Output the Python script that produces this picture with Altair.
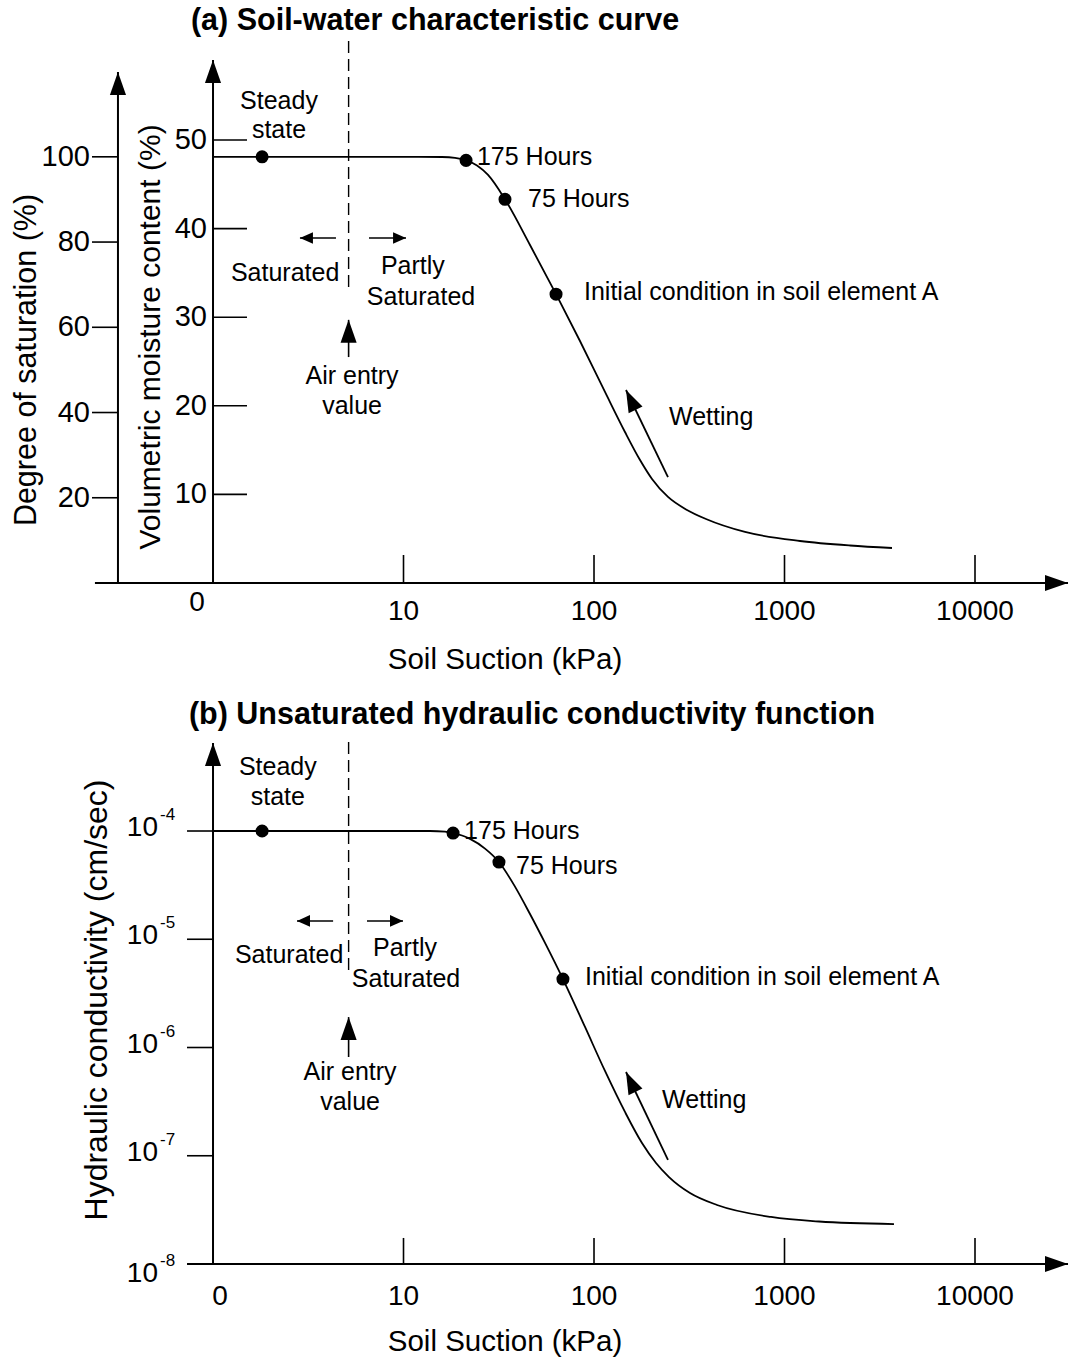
import altair as alt
import pandas as pd

FONT = "Liberation Sans"
PANEL_W, PANEL_H = 1070, 680

# ------------------------------------------------------------------ data
X_TICKS = [10, 100, 1000, 10000]
X_TICK_LABELS = ["10", "100", "1000", "10000"]
X_ORIGIN = 1            # suction drawn at the vertical axis, labelled "0"
X_ORIGIN_LABEL = "0"

VOL_TICKS = [10, 20, 30, 40, 50]
SAT_TICKS = [20, 40, 60, 80, 100]
SAT_TO_VOL = 0.481      # volumetric water content (%) per 1 % of saturation

K_TICKS = [1e-4, 1e-5, 1e-6, 1e-7]
K_TICK_EXP = ["-4", "-5", "-6", "-7"]
K_MIN = 1e-8
K_MIN_EXP = "-8"

# (a) soil-water characteristic curve
SWCC_SUCTION = [1, 5, 12, 15.93, 18.64, 21.3, 24.31, 27.78, 34.1, 46.13, 63.2, 84.4,
                114.2, 145.4, 174.4, 201.6, 244.6, 307.7, 387.1, 620.3, 1206, 2207, 3667]
SWCC_VOL = [48.1, 48.1, 48.1, 48.08, 47.99, 47.7, 47.12, 46.05, 43.3, 38.15, 32.6, 27.31,
            21.56, 17.04, 13.88, 11.74, 9.71, 8.24, 7.22, 5.76, 4.74, 4.23, 3.95]
SWCC_PT_SUCTION = [1.81, 21.3, 34.1, 63.2]
SWCC_PT_VOL = [48.1, 47.7, 43.3, 32.6]

# (b) unsaturated hydraulic conductivity function
HCF_SUCTION = [1, 5, 12, 13.78, 16.51, 18.2, 20.28, 22.34, 26.78, 31.7, 38.48, 46.13,
               55.31, 68.7, 89.7, 114.2, 145.4, 178.6, 211.6, 247.6, 319.1, 442.4,
               849.3, 1517, 3756]
HCF_K = [1e-4, 1e-4, 1e-4, 1e-4, 9.89e-5, 9.58e-5, 9.09e-5, 8.45e-5, 6.88e-5, 5.17e-5,
         3.064e-5, 1.711e-5, 9.25e-6, 4.29e-6, 1.547e-6, 6.07e-7, 2.54e-7, 1.311e-7,
         8.57e-8, 6.36e-8, 4.53e-8, 3.51e-8, 2.72e-8, 2.47e-8, 2.34e-8]
HCF_PT_SUCTION = [1.81, 18.2, 31.7, 68.7]
HCF_PT_K = [1e-4, 9.58e-5, 5.17e-5, 4.29e-6]

AIR_ENTRY = 5.15        # kPa

POINT_TEXT = ["175 Hours", "75 Hours", "Initial condition in soil element A", "Wetting"]
STEADY_TEXT = ["Steady", "state"]
ZONE_TEXT = ["Saturated", "Partly", "Saturated"]
AIR_TEXT = ["Air entry", "value"]

TITLE_A = "(a) Soil-water characteristic curve"
TITLE_B = "(b) Unsaturated hydraulic conductivity function"
X_TITLE = "Soil Suction (kPa)"
SAT_TITLE = "Degree of saturation (%)"
VOL_TITLE = "Volumetric moisture content (%)"
K_TITLE = "Hydraulic conductivity (cm/sec)"

# ------------------------------------------------------------------ scales (layout)
X_SCALE = alt.Scale(type="log", domain=[0.076175, 31527], nice=False)
Y_A = alt.Scale(type="linear", domain=[-10.95, 65.80], nice=False, zero=False)
Y_B = alt.Scale(type="log", domain=[1.2978e-9, 2.4829e-3], nice=False)

ARROW = "M0,0L0.7,2L-0.7,2Z"       # tip at the anchor, pointing up
SMALL_ARROW = "M0,0L0.9,2L-0.9,2Z"


def X():
    return alt.X("s:Q", scale=X_SCALE, axis=None)


def Y(scale):
    return alt.Y("v:Q", scale=scale, axis=None)


def texts(s, v, t, yscale, **mark):
    opts = dict(font=FONT, fontSize=25, color="black", baseline="middle", align="center")
    opts.update(mark)
    df = pd.DataFrame({"s": s, "v": v, "t": t})
    return alt.Chart(df).mark_text(**opts).encode(x=X(), y=Y(yscale), text="t:N")


def segs(s, v, s2, v2, yscale, **mark):
    opts = dict(color="black", strokeWidth=2)
    opts.update(mark)
    df = pd.DataFrame({"s": s, "v": v, "s2": s2, "v2": v2})
    return alt.Chart(df).mark_rule(**opts).encode(
        x=X(), y=Y(yscale), x2="s2:Q", y2="v2:Q")


def heads(s, v, a, yscale, shape=ARROW, size=529):
    df = pd.DataFrame({"s": s, "v": v, "a": a})
    return alt.Chart(df).mark_point(shape=shape, size=size, filled=True, color="black",
                                    strokeWidth=0, opacity=1).encode(
        x=X(), y=Y(yscale), angle=alt.Angle("a:Q", scale=None))


def curve(s, v, yscale):
    df = pd.DataFrame({"s": s, "v": v})
    return alt.Chart(df).mark_line(color="black", strokeWidth=1.8,
                                   interpolate="monotone").encode(x=X(), y=Y(yscale))


def dots(s, v, yscale):
    df = pd.DataFrame({"s": s, "v": v})
    return alt.Chart(df).mark_circle(color="black", size=170, opacity=1).encode(
        x=X(), y=Y(yscale))


# ------------------------------------------------------------------ panel (a)
SAT_AXIS_S = 0.317
sat_vol = [d * SAT_TO_VOL for d in SAT_TICKS]
n_x = len(X_TICKS)

layers_a = [
    # axes
    segs([SAT_AXIS_S, X_ORIGIN, 0.24], [0, 0, 0], [SAT_AXIS_S, X_ORIGIN, 30780],
         [57.67, 59.03, 0], Y_A),
    heads([SAT_AXIS_S, X_ORIGIN, 30780], [57.67, 59.03, 0], [0, 0, 90], Y_A),
    # ticks
    segs([X_ORIGIN] * 5, VOL_TICKS, [1.508] * 5, VOL_TICKS, Y_A, strokeWidth=1.6),
    segs([0.2316] * 5, sat_vol, [SAT_AXIS_S] * 5, sat_vol, Y_A, strokeWidth=1.6),
    segs(X_TICKS, [0] * n_x, X_TICKS, [3.16] * n_x, Y_A, strokeWidth=1.6),
    # tick labels
    texts([X_ORIGIN] * 5, VOL_TICKS, [str(v) for v in VOL_TICKS], Y_A,
          fontSize=29, align="right", dx=-6),
    texts([SAT_AXIS_S] * 5, sat_vol, [str(v) for v in SAT_TICKS], Y_A,
          fontSize=29, align="right", dx=-28),
    texts(X_TICKS, [0] * n_x, X_TICK_LABELS, Y_A, fontSize=28, dy=29),
    texts([X_ORIGIN], [0], [X_ORIGIN_LABEL], Y_A, fontSize=28, dx=-16, dy=20),
    # titles
    texts([14.64], [63.43], [TITLE_A], Y_A, fontSize=30.5, fontWeight="bold"),
    texts([34.1], [-8.69], [X_TITLE], Y_A, fontSize=29.5),
    texts([0.1056], [25.17], [SAT_TITLE], Y_A, fontSize=30.5, angle=270),
    texts([0.4727], [27.77], [VOL_TITLE], Y_A, fontSize=30, angle=270),
    # air entry
    segs([AIR_ENTRY], [33.4], [AIR_ENTRY], [61.5], Y_A, strokeWidth=1.4, strokeDash=[12, 6]),
    segs([4.42, 6.59, AIR_ENTRY], [38.94, 38.94, 25.5], [2.86, 10.31, AIR_ENTRY],
         [38.94, 38.94, 29.7], Y_A, strokeWidth=1.6),
    heads([2.86, 10.31], [38.94, 38.94], [270, 90], Y_A, shape=SMALL_ARROW, size=169),
    heads([AIR_ENTRY], [29.7], [0], Y_A),
    # wetting arrow
    segs([244.5], [11.96], [147.2], [21.78], Y_A, strokeWidth=1.8),
    heads([147.2], [21.78], [334.2], Y_A, size=484),
    # curve + points
    curve(SWCC_SUCTION, SWCC_VOL, Y_A),
    dots(SWCC_PT_SUCTION, SWCC_PT_VOL, Y_A),
    # annotations
    texts([2.22, 2.22], [54.4, 51.13], STEADY_TEXT, Y_A),
    texts([2.39, 11.2, 12.36], [34.99, 35.78, 32.28], ZONE_TEXT, Y_A),
    texts([5.37, 5.37], [23.36, 19.98], AIR_TEXT, Y_A),
    texts([24.3, 45.03, 88.6, 247.6], [48.08, 43.34, 32.84, 18.74], POINT_TEXT, Y_A,
          align="left"),
]
panel_a = alt.layer(*layers_a).properties(width=PANEL_W, height=PANEL_H)

# ------------------------------------------------------------------ panel (b)
n_k = len(K_TICKS)
layers_b = [
    segs([X_ORIGIN, 0.7304], [K_MIN, K_MIN], [X_ORIGIN, 30780], [6.5e-4, K_MIN], Y_B),
    heads([X_ORIGIN, 30780], [6.5e-4, K_MIN], [0, 90], Y_B),
    segs([0.7304] * n_k, K_TICKS, [X_ORIGIN] * n_k, K_TICKS, Y_B, strokeWidth=1.6),
    segs(X_TICKS, [K_MIN] * n_x, X_TICKS, [1.74e-8] * n_x, Y_B, strokeWidth=1.6),
    texts([X_ORIGIN] * n_k, K_TICKS, ["10"] * n_k, Y_B, fontSize=28, align="right",
          dx=-55, dy=-3),
    texts([X_ORIGIN] * n_k, K_TICKS, K_TICK_EXP, Y_B, fontSize=17, align="left",
          dx=-53, dy=-16),
    texts([X_ORIGIN], [K_MIN], ["10"], Y_B, fontSize=28, align="right", dx=-55, dy=10),
    texts([X_ORIGIN], [K_MIN], [K_MIN_EXP], Y_B, fontSize=17, align="left", dx=-53, dy=-3),
    texts(X_TICKS, [K_MIN] * n_x, X_TICK_LABELS, Y_B, fontSize=28, dy=33),
    texts([X_ORIGIN], [K_MIN], [X_ORIGIN_LABEL], Y_B, fontSize=28, dx=7, dy=33),
    texts([47.3], [1.180e-3], [TITLE_B], Y_B, fontSize=30.5, fontWeight="bold"),
    texts([34.1], [1.903e-9], [X_TITLE], Y_B, fontSize=29.5),
    texts([0.246], [2.748e-6], [K_TITLE], Y_B, fontSize=32, angle=270),
    segs([AIR_ENTRY], [5.2e-6], [AIR_ENTRY], [7.23e-4], Y_B, strokeWidth=1.4,
         strokeDash=[12, 6]),
    segs([4.27, 6.43, AIR_ENTRY], [1.476e-5, 1.476e-5, 8.17e-7],
         [2.76, 9.94, AIR_ENTRY], [1.476e-5, 1.476e-5, 1.91e-6], Y_B, strokeWidth=1.6),
    heads([2.76, 9.94], [1.476e-5, 1.476e-5], [270, 90], Y_B, shape=SMALL_ARROW, size=169),
    heads([AIR_ENTRY], [1.91e-6], [0], Y_B),
    segs([244.5], [9.14e-8], [147.2], [5.94e-7], Y_B, strokeWidth=1.8),
    heads([147.2], [5.94e-7], [334.5], Y_B, size=484),
    curve(HCF_SUCTION, HCF_K, Y_B),
    dots(HCF_PT_SUCTION, HCF_PT_K, Y_B),
    texts([2.19, 2.19], [3.90e-4, 2.06e-4], STEADY_TEXT, Y_B),
    texts([2.51, 10.18, 10.31], [7.15e-6, 8.30e-6, 4.30e-6], ZONE_TEXT, Y_B),
    texts([5.24, 5.24], [5.94e-7, 3.14e-7], AIR_TEXT, Y_B),
    texts([20.8, 38.96, 89.7, 227.5], [1e-4, 4.75e-5, 4.48e-6, 3.27e-7], POINT_TEXT, Y_B,
          align="left"),
]
panel_b = alt.layer(*layers_b).properties(width=PANEL_W, height=PANEL_H)

chart = (
    alt.vconcat(panel_a, panel_b, spacing=0)
    .resolve_scale(x="independent", y="independent")
    .properties(padding=0, background="white")
    .configure_view(stroke=None)
)

chart.save("out.html", embed_options={"renderer": "svg", "actions": False})
